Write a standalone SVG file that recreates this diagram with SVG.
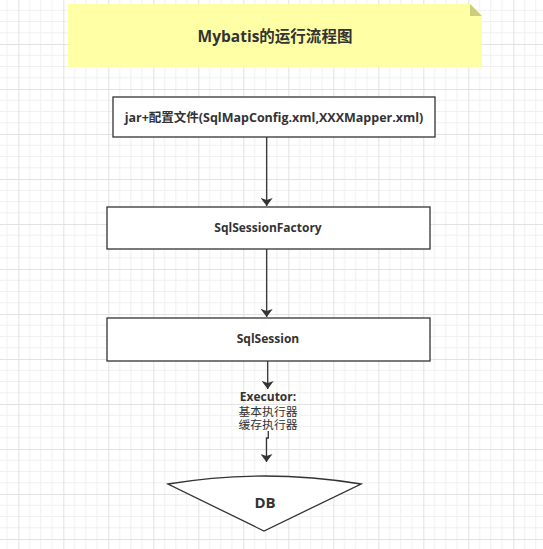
<svg xmlns="http://www.w3.org/2000/svg" width="543" height="549" viewBox="0 0 543 549">
  <defs>
    <pattern id="grid" patternUnits="userSpaceOnUse" x="18.3" y="44" width="45" height="45">
      <path d="M11.25,0V45M22.5,0V45M33.75,0V45M0,11.25H45M0,22.5H45M0,33.75H45" stroke="#f0f0f0" stroke-width="1" fill="none"/>
      <path d="M0.5,0V45M0,0.5H45" stroke="#e2e2e2" stroke-width="1" fill="none"/>
    </pattern>
    <marker id="arrow" viewBox="0 0 8 12" refX="8" refY="6" markerWidth="8" markerHeight="12" markerUnits="userSpaceOnUse" orient="auto-start-reverse">
      <path d="M0,0 L8,6 L0,12 L2,6 Z" fill="#333"/>
    </marker>
    <style>
      .box { fill: #ffffff; stroke: #333333; stroke-width: 1.3; }
      .lbl { font-family: "Open Sans", "Noto Sans CJK SC", sans-serif; fill: #333333; text-anchor: middle; }
      .cjk { font-family: "Noto Sans CJK SC", sans-serif; font-weight: normal; }
      .b { font-weight: bold; }
      .edge { fill: none; stroke: #333333; stroke-width: 1.3; }
    </style>
  </defs>
  <rect width="543" height="549" fill="#ffffff"/>
  <rect width="543" height="549" fill="url(#grid)"/>

  <g id="title">
    <path d="M68,4 H470 L482,16 V67 H68 Z" fill="#ffffa6"/>
    <path d="M470,4 L482,16 H470 Z" fill="#cccc7a"/>
    <text class="lbl b" x="275" y="42" font-size="15.5">Mybatis的运行流程图</text>
  </g>

  <g id="config">
    <rect class="box" x="113" y="97" width="322" height="40"/>
    <text class="lbl b" x="274" y="122" font-size="12.5">jar+配置文件(SqlMapConfig.xml,XXXMapper.xml)</text>
  </g>

  <g id="factory">
    <rect class="box" x="107" y="207" width="323" height="42"/>
    <text class="lbl b" x="268" y="232" font-size="12">SqlSessionFactory</text>
  </g>

  <g id="session">
    <rect class="box" x="107" y="318" width="323" height="43"/>
    <text class="lbl b" x="268" y="343" font-size="12">SqlSession</text>
  </g>

  <g id="executor">
    <text class="lbl" font-size="12"><tspan class="b" x="268" y="401">Executor:</tspan><tspan class="cjk" x="268" y="415.5" font-size="11.8">基本执行器</tspan><tspan class="cjk" x="268" y="429" font-size="11.8">缓存执行器</tspan></text>
  </g>

  <g id="db">
    <path d="M168,484 Q264,468 361,484 L264,531 Z" fill="#ffffff" stroke="#333333" stroke-width="1.3"/>
    <text class="lbl b" x="265" y="508" font-size="15">DB</text>
  </g>

  <g id="connectors">
    <path class="edge" d="M266.7,137 V206" marker-end="url(#arrow)"/>
    <path class="edge" d="M266.7,249 V317" marker-end="url(#arrow)"/>
    <path class="edge" d="M267.7,361 V389" marker-end="url(#arrow)"/>
    <path class="edge" d="M268.3,431 V438 H266.5 V462" marker-end="url(#arrow)"/>
  </g>
</svg>
